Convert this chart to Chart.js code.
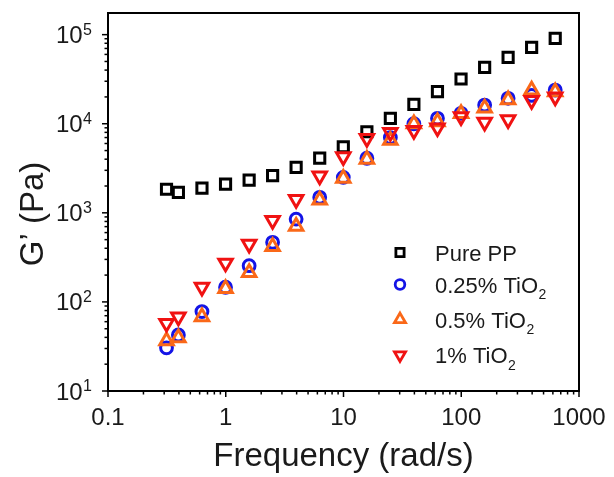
<!DOCTYPE html>
<html><head><meta charset="utf-8">
<script src="https://cdn.jsdelivr.net/npm/chart.js@4.4.1/dist/chart.umd.min.js"></script>
<style>html,body{margin:0;padding:0;background:#fff;}canvas{display:block;}</style>
</head><body>
<canvas id="c" width="614" height="477"></canvas>
<script>
// ---- data ----
const frequency = [0.314, 0.396, 0.628, 0.996, 1.58, 2.5, 3.96, 6.28, 9.96, 15.8, 25, 39.6, 62.8, 99.6, 158, 250, 396, 628];
const purePP   = [1840, 1700, 1890, 2100, 2330, 2610, 3240, 4120, 5520, 8130, 11500, 16500, 22900, 31800, 43000, 55600, 71900, 90800];
const tio2_025 = [30.5, 42.5, 78, 146, 255, 467, 850, 1494, 2500, 4100, 7000, 10000, 11500, 13100, 16200, 19300, 20800, 23900];
const tio2_05  = [36.5, 39.6, 68, 141, 213, 417, 705, 1393, 2440, 3980, 6500, 10000, 10500, 13000, 15000, 18600, 23900, 22800];
const tio2_1   = [57.5, 68, 146, 273, 445, 820, 1416, 2590, 4260, 6850, 8000, 8400, 9000, 12000, 10400, 11100, 18300, 20000];
const seriesNames = ['Pure PP', '0.25% TiO₂', '0.5% TiO₂', '1% TiO₂'];
const xTickValues = [0.1, 1, 10, 100, 1000];
const xTickLabels = ['0.1', '1', '10', '100', '1000'];
const yTickExponents = [1, 2, 3, 4, 5];
const xTitle = 'Frequency (rad/s)';
const yTitle = 'G’ (Pa)';

const FONT = '"Liberation Sans", Arial, Helvetica, sans-serif';
const colors = ['#000000', '#1414e6', '#fa6818', '#f01212'];

function pts(ys){ return frequency.map((f,i)=>({x:f, y:ys[i]})); }

function drawMarker(ctx, style, x, y, r, color, lw){
  ctx.save();
  ctx.strokeStyle = color; ctx.lineWidth = lw;
  ctx.beginPath();
  if(style==='rect'){ const s=Math.SQRT1_2*r; ctx.rect(x-s,y-s,2*s,2*s); }
  else if(style==='circle'){ ctx.arc(x,y,r,0,Math.PI*2); }
  else if(style==='triangle'){ ctx.moveTo(x, y-r); ctx.lineTo(x+r*0.866, y+r/2); ctx.lineTo(x-r*0.866, y+r/2); ctx.closePath(); }
  else if(style==='down'){ ctx.moveTo(x, y+r); ctx.lineTo(x+r*0.866, y-r/2); ctx.lineTo(x-r*0.866, y-r/2); ctx.closePath(); }
  ctx.stroke();
  ctx.restore();
}

function drawSubText(ctx, text, x, y, size, sub){
  const parts = text.split('₂');
  ctx.textAlign='left'; ctx.textBaseline='alphabetic';
  let cx = x;
  parts.forEach((p,i)=>{
    ctx.font = size+'px '+FONT;
    ctx.fillText(p, cx, y); cx += ctx.measureText(p).width;
    if(i<parts.length-1){
      ctx.font = sub+'px '+FONT;
      ctx.fillText('2', cx+0.5, y+6.5); cx += ctx.measureText('2').width+0.5;
    }
  });
}

const decoPlugin = {
  id:'deco',
  afterDraw(chart){
    const {ctx, chartArea:a, scales:{x, y}} = chart;
    ctx.save();
    ctx.strokeStyle='#000'; ctx.fillStyle='#1a1a1a';
    ctx.lineWidth=1.5;
    for(let e=-1;e<=3;e++) for(let m=1;m<=9;m++){
      const v=m*Math.pow(10,e); if(v<x.min*0.999||v>x.max*1.001) continue;
      const px=x.getPixelForValue(v), len=(m===1)?6:3.5;
      ctx.beginPath(); ctx.moveTo(px,a.bottom); ctx.lineTo(px,a.bottom+len); ctx.stroke();
    }
    for(let e=1;e<=6;e++) for(let m=1;m<=9;m++){
      const v=m*Math.pow(10,e); if(v<y.min*0.999||v>y.max*1.001) continue;
      const py=y.getPixelForValue(v), len=(m===1)?6:3.5;
      ctx.beginPath(); ctx.moveTo(a.left,py); ctx.lineTo(a.left-len,py); ctx.stroke();
    }
    ctx.lineWidth=2;
    ctx.strokeRect(a.left, a.top, a.right-a.left, a.bottom-a.top);
    ctx.font='24px '+FONT; ctx.textAlign='center'; ctx.textBaseline='alphabetic';
    xTickValues.forEach((v,i)=>{ ctx.fillText(xTickLabels[i], x.getPixelForValue(v), 425); });
    yTickExponents.forEach(n=>{
      const py=y.getPixelForValue(Math.pow(10,n));
      ctx.font='16px '+FONT; ctx.textAlign='right';
      const ew=ctx.measureText(String(n)).width;
      ctx.fillText(String(n), 92, py);
      ctx.font='24px '+FONT;
      ctx.fillText('10', 92-ew-0.5, py+8.5);
    });
    ctx.font='33px '+FONT; ctx.textAlign='center';
    ctx.fillText(xTitle, (a.left+a.right)/2, 466);
    ctx.save();
    ctx.translate(43, 214); ctx.rotate(-Math.PI/2);
    ctx.fillText(yTitle, 0, 0);
    ctx.restore();
    const styles=['rect','circle','triangle','down'];
    const radii=[5.8,4.8,6.4,6.4];
    const rowY=[252.5, 284.5, 319.5, 355];
    styles.forEach((s,i)=>{
      drawMarker(ctx, s, 400, rowY[i], radii[i], colors[i], 2.8);
      ctx.fillStyle='#1a1a1a';
      drawSubText(ctx, seriesNames[i], 435, rowY[i]+8, 22, 14);
    });
    ctx.restore();
  }
};

const mk = (i, data, style, r, rot, order) => ({
  label: seriesNames[i], data: pts(data), pointStyle: style, pointRotation: rot,
  pointRadius: r, pointHoverRadius: r, pointBorderWidth: 3, borderColor: colors[i],
  pointBorderColor: colors[i], pointBackgroundColor: 'rgba(0,0,0,0)', backgroundColor:'rgba(0,0,0,0)',
  showLine:false, order
});

new Chart(document.getElementById('c'), {
  type:'scatter',
  data:{ datasets:[
    mk(0, purePP, 'rect', 7.2, 0, 4),
    mk(1, tio2_025, 'circle', 5.9, 0, 3),
    mk(2, tio2_05, 'triangle', 7.8, 0, 2),
    mk(3, tio2_1, 'triangle', 7.8, 180, 1)
  ]},
  options:{
    responsive:false, animation:false, devicePixelRatio:1,
    layout:{ padding:{ left:108, top:13, right:35, bottom:86 } },
    plugins:{ legend:{display:false}, tooltip:{enabled:false} },
    scales:{
      x:{ type:'logarithmic', min:0.1, max:1000, display:false },
      y:{ type:'logarithmic', min:10, max:175000, display:false }
    },
    elements:{ point:{ hitRadius:0 } }
  },
  plugins:[decoPlugin]
});
</script>
</body></html>
